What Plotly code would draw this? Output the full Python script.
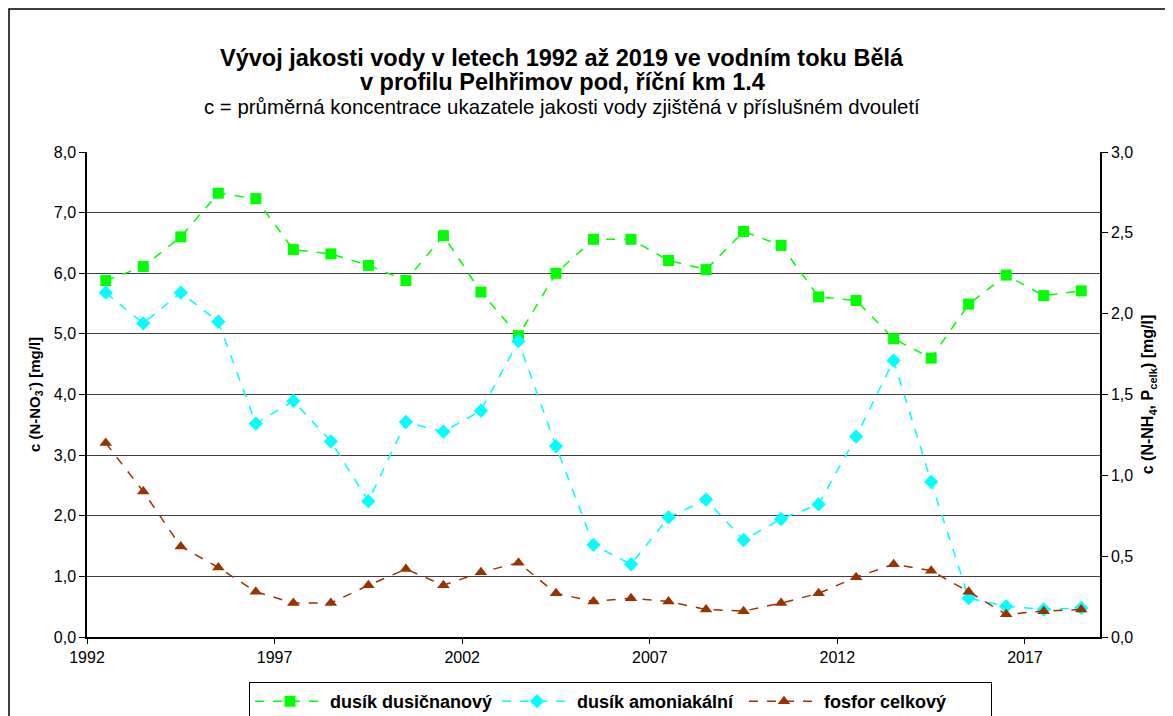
import plotly.graph_objects as go

years = [1992.5 + i for i in range(27)]
dusicnanovy = [5.88, 6.11, 6.60, 7.32, 7.23, 6.39, 6.32, 6.13, 5.88,
               6.62, 5.69, 4.97, 6.00, 6.56, 6.56, 6.21, 6.06, 6.69,
               6.46, 5.61, 5.55, 4.92, 4.60, 5.49, 5.97, 5.63, 5.71]
amoniakalni = [2.13, 1.94, 2.13, 1.95, 1.32, 1.46, 1.21, 0.84, 1.33,
               1.27, 1.40, 1.83, 1.18, 0.57, 0.45, 0.74, 0.85, 0.60,
               0.73, 0.82, 1.24, 1.71, 0.96, 0.24, 0.19, 0.17, 0.18]
fosfor = [1.20, 0.90, 0.56, 0.43, 0.28, 0.21, 0.21, 0.32, 0.42,
          0.32, 0.40, 0.46, 0.27, 0.22, 0.24, 0.22, 0.17, 0.16,
          0.21, 0.27, 0.37, 0.45, 0.41, 0.28, 0.14, 0.16, 0.17]
x_ticks = [1992, 1997, 2002, 2007, 2012, 2017]

# the page body has an 8px margin; figure coordinates = page coordinates - 8
OFF = 8
W, H = 1173 - OFF, 716 - OFF
L, R, T, B = 87 - OFF, 1100 - OFF, 152 - OFF, 637 - OFF
FONT = "Liberation Sans, Arial, sans-serif"

def px(x):  # page x -> paper
    return (x - OFF - L) / (R - L)

def py(y):  # page y -> paper
    return (B - (y - OFF)) / (B - T)

fig = go.Figure()
fig.add_trace(go.Scatter(
    x=years, y=dusicnanovy, name="dusík dusičnanový", mode="lines+markers",
    line=dict(color="#00FF00", width=1.5, dash="dash"),
    marker=dict(symbol="square", size=11, color="#00FF00"), yaxis="y"))
fig.add_trace(go.Scatter(
    x=years, y=amoniakalni, name="dusík amoniakální", mode="lines+markers",
    line=dict(color="#00FFFF", width=1.5, dash="dash"),
    marker=dict(symbol="diamond", size=11, color="#00FFFF"), yaxis="y2"))
fig.add_trace(go.Scatter(
    x=years, y=fosfor, name="fosfor celkový", mode="lines+markers",
    line=dict(color="#993300", width=1.5, dash="dash"),
    marker=dict(symbol="triangle-up", size=11, color="#993300"), yaxis="y2"))

fig.update_layout(
    width=W, height=H,
    margin=dict(l=L, r=W - R, t=T, b=H - B, pad=0, autoexpand=False),
    paper_bgcolor="white", plot_bgcolor="white",
    separators=",.",
    font=dict(family=FONT, color="black", size=16),
    showlegend=True,
    legend=dict(orientation="h", x=px(249), xanchor="left",
                y=py(682), yanchor="top",
                bordercolor="black", borderwidth=1,
                font=dict(family=FONT, size=18, color="black", weight="bold"),
                entrywidth=162, itemwidth=70, tracegroupgap=0),
    xaxis=dict(range=[1992, 2019], tickvals=x_ticks, ticktext=[str(v) for v in x_ticks],
               showgrid=False, zeroline=False, showline=True, linecolor="black",
               linewidth=1.5, ticks="outside", ticklen=5, tickcolor="black",
               tickfont=dict(size=16, family=FONT)),
    yaxis=dict(range=[0, 8], dtick=1, tickformat=".1f", showgrid=True,
               gridcolor="#404040", gridwidth=1, zeroline=False, showline=True,
               linecolor="black", linewidth=1.5, ticks="outside", ticklen=6,
               tickcolor="black", tickfont=dict(size=16, family=FONT),
               title=dict(text="c (N-NO<sub>3</sub><sup>-</sup>) [mg/l]",
                          font=dict(size=15, family=FONT, weight="bold"),
                          standoff=10)),
    yaxis2=dict(range=[0, 3], dtick=0.5, tickformat=".1f", overlaying="y",
                side="right", showgrid=False, zeroline=False, showline=True,
                linecolor="black", linewidth=1.5, ticks="outside", ticklen=6,
                tickcolor="black", tickfont=dict(size=16, family=FONT),
                title=dict(text="c (N-NH<sub>4</sub>, P<sub>celk</sub>) [mg/l]",
                           font=dict(size=16, family=FONT, weight="bold"),
                           standoff=10)),
)

title_lines = [
    ("Vývoj jakosti vody v letech 1992 až 2019 ve vodním toku Bělá", 58, 23.5, "bold"),
    ("v profilu Pelhřimov pod, říční km 1.4", 82, 23.5, "bold"),
    ("c = průměrná koncentrace ukazatele jakosti vody zjištěná v příslušném dvouletí", 107, 20.4, "normal"),
]
for text, yc, size, weight in title_lines:
    fig.add_annotation(text=text, xref="paper", yref="paper", x=px(562), y=py(yc),
                       xanchor="center", yanchor="middle", showarrow=False,
                       font=dict(size=size, family=FONT, color="black", weight=weight))

# chart area border (left and top edges visible)
fig.add_shape(type="rect", xref="paper", yref="paper",
              x0=px(OFF + 1), x1=px(1200), y0=py(740), y1=py(OFF + 1),
              line=dict(color="black", width=1.5), layer="below")

fig.write_html("out.html")
